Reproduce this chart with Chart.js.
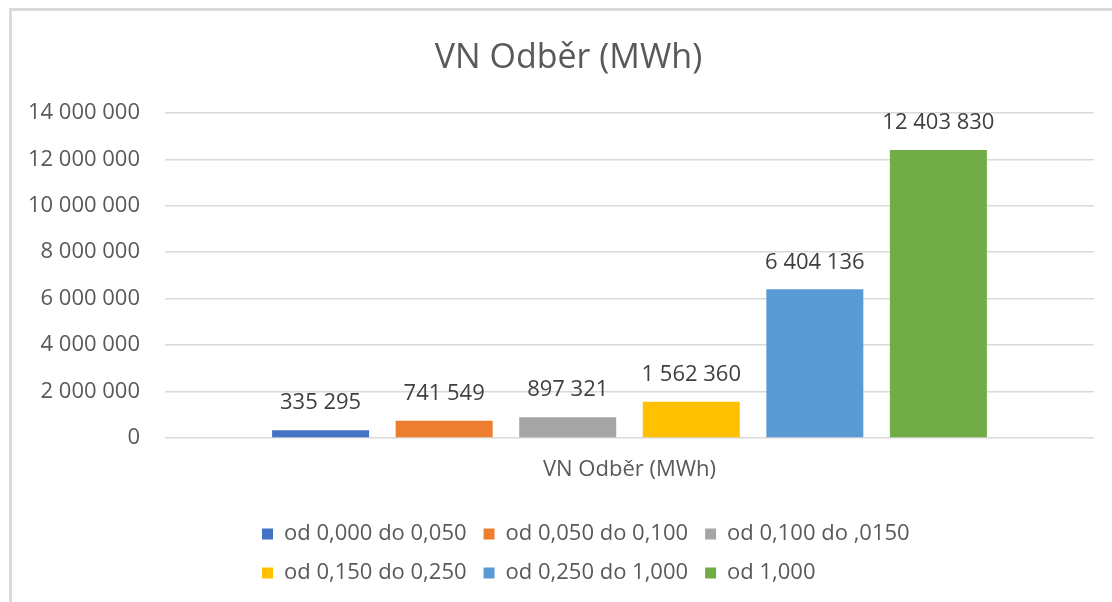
<!DOCTYPE html>
<html><head><meta charset="utf-8">
<script src="https://cdn.jsdelivr.net/npm/chart.js@4/dist/chart.umd.min.js"></script>
<style>html,body{margin:0;padding:0;background:#fff;} #wrap{position:relative;width:1112px;height:602px;}</style>
</head><body><div id="wrap"><canvas id="c" width="1112" height="602"></canvas></div>
<script>
const categories = ['VN Odběr (MWh)'];
const seriesNames = ['od 0,000 do 0,050', 'od 0,050 do 0,100', 'od 0,100 do ,0150', 'od 0,150 do 0,250', 'od 0,250 do 1,000', 'od 1,000'];
const seriesValues = [335295, 741549, 897321, 1562360, 6404136, 12403830];
const seriesColors = ['#4472C4', '#ED7D31', '#A5A5A5', '#FFC000', '#5B9BD5', '#70AD47'];
const yMin = 0, yMax = 14000000, yStep = 2000000;

const FONT = "'Open Sans', 'Noto Sans', sans-serif";
const LEG_PAD = 17;
function fmt(v) { return String(Math.round(v)).replace(/\B(?=(\d{3})+(?!\d))/g, ' '); }

const deco = {
  id: 'deco',
  beforeDraw(chart) {
    const ctx = chart.ctx;
    ctx.save();
    ctx.fillStyle = '#ffffff';
    ctx.fillRect(0, 0, chart.width, chart.height);
    ctx.fillStyle = '#DADADA';
    ctx.fillRect(9, 8, chart.width - 9, 3);
    ctx.fillRect(9, 8, 3, chart.height - 8);
    ctx.restore();
  },
  afterLayout(chart) {
    if (chart.legend) { chart.legend.left = 262 - LEG_PAD; chart.legend.right = 1060; }
    if (chart.titleBlock) { chart.titleBlock.left = 25; chart.titleBlock.right = 1112; }
  },
  afterDatasetsDraw(chart) {
    const ctx = chart.ctx;
    ctx.save();
    ctx.font = '22px ' + FONT;
    ctx.fillStyle = '#404040';
    ctx.textAlign = 'center';
    ctx.textBaseline = 'middle';
    chart.data.datasets.forEach((ds, i) => {
      const meta = chart.getDatasetMeta(i);
      meta.data.forEach((el, j) => {
        ctx.fillText(fmt(ds.data[j]), el.x, el.y - 27);
      });
    });
    ctx.restore();
  }
};

const datasets = seriesNames.map((name, i) => ({
  label: name,
  data: [seriesValues[i]],
  backgroundColor: seriesColors[i],
  borderWidth: 0,
  categoryPercentage: 0.798,
  barPercentage: 0.785
}));

new Chart(document.getElementById('c'), {
  type: 'bar',
  data: { labels: categories, datasets },
  plugins: [deco],
  options: {
    responsive: false,
    animation: false,
    layout: { padding: { left: 0, right: 18, top: 0, bottom: 8 } },
    plugins: {
      tooltip: { enabled: false },
      title: {
        display: true,
        text: 'VN Odběr (MWh)',
        color: '#595959',
        font: { family: FONT, size: 34, weight: 'normal', lineHeight: 1.2 },
        padding: { top: 38, bottom: 34 }
      },
      legend: {
        position: 'bottom',
        align: 'start',
        labels: {
          color: '#595959',
          font: { family: FONT, size: 22 },
          boxWidth: 11,
          boxHeight: 11,
          padding: LEG_PAD
        }
      }
    },
    scales: {
      x: {
        grid: { display: false },
        border: { display: false },
        ticks: { color: '#595959', font: { family: FONT, size: 22 }, padding: 11 },
        afterFit(scale) { scale.height = 68; }
      },
      y: {
        min: yMin, max: yMax,
        grid: { color: '#D9D9D9', lineWidth: 1.5, drawTicks: false },
        border: { display: false },
        ticks: {
          stepSize: yStep,
          color: '#595959',
          font: { family: FONT, size: 22 },
          padding: 25,
          callback: (v) => fmt(v)
        },
        afterFit(scale) { scale.width = 165; }
      }
    }
  }
});
</script>
</body></html>
